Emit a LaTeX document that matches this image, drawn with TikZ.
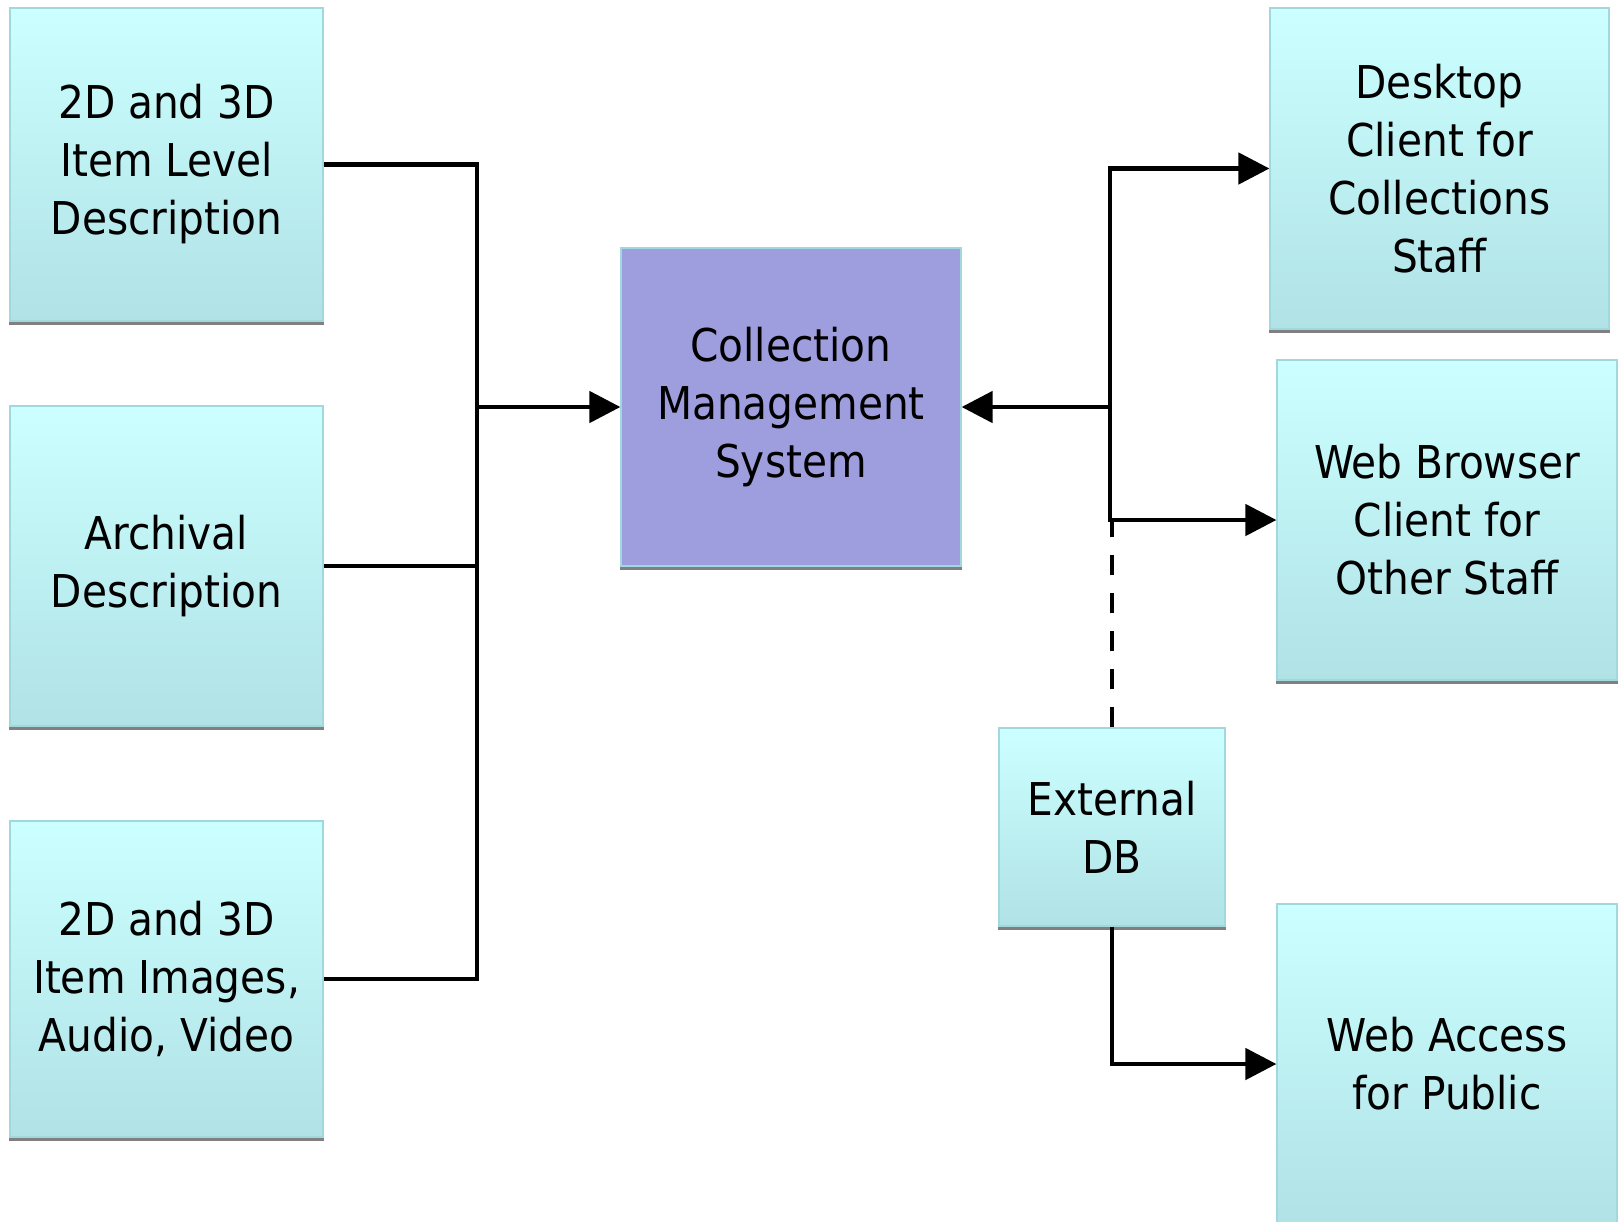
\documentclass[tikz,border=0pt]{standalone}
\usepackage{fontspec}
\setmainfont{DejaVu Sans Condensed}
\usepackage{tikz}
\usetikzlibrary{arrows.meta}

\definecolor{boxtop}{RGB}{204,255,255}
\definecolor{boxbot}{RGB}{176,226,230}
\definecolor{boxedge}{RGB}{160,216,222}
\definecolor{cmsfill}{RGB}{158,158,222}
\definecolor{shadowgray}{RGB}{128,128,128}

\tikzset{
  boxtext/.style={align=center, inner sep=0pt, font=\fontsize{22.6}{29}\selectfont},
  box/.style={boxtext, draw=boxedge, line width=0.6pt, top color=boxtop, bottom color=boxbot},
  cmsbox/.style={boxtext, draw=boxedge, line width=0.6pt, fill=cmsfill},
  shadowline/.style={shadowgray, line width=1.2pt},
  link/.style={line width=2.4pt},
  linkarrow/.style={link, -{Triangle[length=15.5pt,width=15.5pt]}}
}

\begin{document}
\begin{tikzpicture}[x=0.5pt,y=-0.5pt]

\useasboundingbox (0,0) rectangle (1620,1221);

\node [box,minimum width=156.5pt,minimum height=156.5pt] (itemdesc) at (166.5,164.5) {2D and 3D\\Item Level\\Description};
\node [box,minimum width=156.5pt,minimum height=160pt] (archival) at (166.5,566) {Archival\\Description};
\node [box,minimum width=156.5pt,minimum height=158pt] (itemimg) at (166.5,979) {2D and 3D\\Item Images,\\Audio, Video};

\node [cmsbox,minimum width=170pt,minimum height=159pt] (cms) at (791,407) {Collection\\Management\\System};

\node [box,minimum width=169.5pt,minimum height=160.5pt] (desktop) at (1439.5,168.5) {Desktop\\Client for\\Collections\\Staff};
\node [box,minimum width=170pt,minimum height=160pt] (browser) at (1447,520) {Web Browser\\Client for\\Other Staff};
\node [box,minimum width=113pt,minimum height=99pt] (extdb) at (1112,827) {External\\DB};
\node [box,minimum width=170pt,minimum height=160pt] (public) at (1447,1064) {Web Access\\for Public};

\foreach \n in {itemdesc,archival,itemimg,cms,desktop,browser,extdb,public}
  \draw [shadowline] ([yshift=-0.9pt]\n.south west) -- ([yshift=-0.9pt]\n.south east);

\coordinate (busleft) at (477,407);
\coordinate (busright) at (1110,407);

\draw [link] (itemdesc.east) -| (busleft);
\draw [link] (archival.east) -| (busleft);
\draw [link] (itemimg.east) -| (busleft);
\draw [linkarrow] (busleft) -- (cms.west);

\draw [linkarrow] (busright) -- (cms.east);
\draw [linkarrow] (busright) |- (desktop.west);
\draw [linkarrow] (busright) |- (browser.west);

\draw [link,dash pattern=on 10pt off 9pt] (extdb.north) -- (extdb.north |- browser.west);
\draw [linkarrow] (extdb.south) |- (public.west);

\end{tikzpicture}
\end{document}
